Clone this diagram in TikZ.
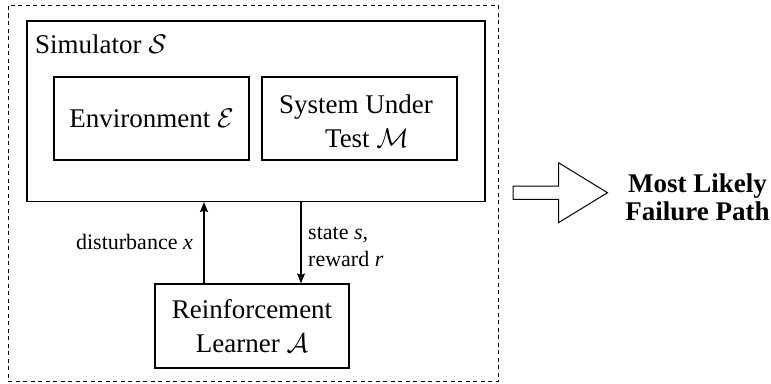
\RequirePackage{fix-cm}
\documentclass[tikz,border=0pt]{standalone}
\usepackage{fontspec}
\setmainfont{Liberation Serif}
\usetikzlibrary{arrows.meta}

\begin{document}
\begin{tikzpicture}[x=1pt,y=-1pt,
  box/.style={draw, line width=1.2pt, rectangle, inner sep=0pt},
  bigtext/.style={font=\fontsize{27}{34}\selectfont, align=center},
  lbl/.style={font=\fontsize{22}{27}\selectfont, inner sep=0pt},
  flow/.style={line width=1.2pt, -{Stealth[length=10pt,width=8pt,inset=1.5pt]}},
  hollow/.style={draw, line width=1pt, line join=miter}
]
\useasboundingbox (0,0) rectangle (771,383);

% outer dashed frame
\node[draw, line width=1pt, dash pattern=on 4pt off 3.5pt,
      minimum width=490pt, minimum height=376.5pt, inner sep=0pt] (outer) at (253,193.25) {};

% simulator with its two components
\node[box, minimum width=458pt, minimum height=180.5pt] (sim) at (256,111.25) {};
\node[bigtext, anchor=base west, inner sep=0pt] (simlabel) at (35,53) {Simulator $\mathcal{S}$};
\node[box, bigtext, minimum width=195pt, minimum height=83pt] (env) at (151.5,118.5) {Environment $\mathcal{E}$};
\node[box, minimum width=195pt, minimum height=83pt] (sut) at (359.5,118.5) {};
\node[bigtext, inner sep=0pt] (suttext) at (356,121) {System Under\\\hspace*{22pt}Test $\mathcal{M}$};

% learner
\node[box, bigtext, minimum width=194pt, minimum height=84pt] (rl) at (252,326) {Reinforcement\\Learner $\mathcal{A}$};

% interaction arrows
\coordinate (ux) at (204,0);
\coordinate (dx) at (301,0);
\draw[flow] (rl.north -| ux) -- (sim.south -| ux);
\draw[flow] (sim.south -| dx) -- (rl.north -| dx);
\node[lbl, anchor=east] (dist) at (193,242) {disturbance \textit{x}};
\node[lbl, anchor=west, align=left] (sr) at (308,246.5) {state \textit{s},\\reward \textit{r}};

% output arrow and result
\draw[hollow] (513,186) -- (558.5,186) -- (558.5,162.7) -- (607.5,192.7)
  -- (558.5,222.7) -- (558.5,199.4) -- (513,199.4) -- cycle;
\node[font=\bfseries\fontsize{27}{28}\selectfont, align=center, inner sep=0pt] (result) at (697.5,197) {Most Likely\\Failure Path};
\end{tikzpicture}
\end{document}
